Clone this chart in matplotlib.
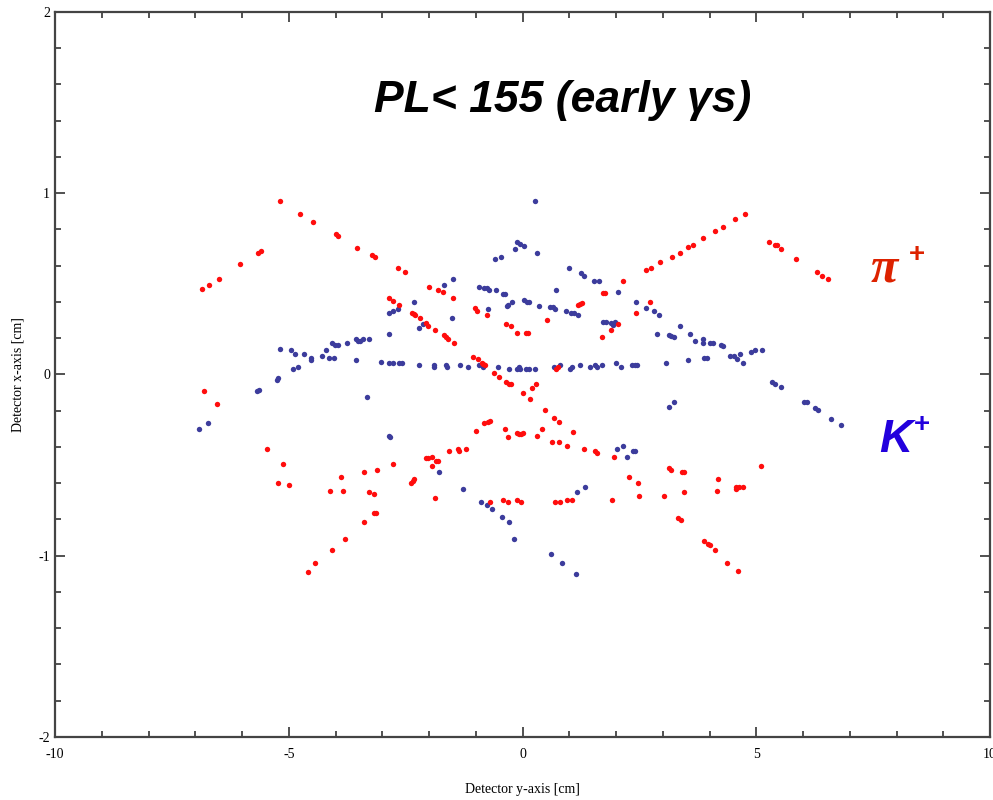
import numpy as np
import matplotlib
matplotlib.use("Agg")
from matplotlib import pyplot as plt
from matplotlib.ticker import MultipleLocator

plt.rcParams['axes.unicode_minus'] = False

# hit positions (detector y, detector x) in cm
pion_hits = [
  (-5.19, 0.957), (-4.77, 0.886), (-4.49, 0.843), (-5.66, 0.670), (-5.60, 0.680), (-6.05, 0.608),
  (-6.49, 0.525), (-6.71, 0.494), (-6.85, 0.474), (-6.82, -0.093), (-6.53, -0.166),
  (-4.00, 0.773), (-3.94, 0.764), (-3.53, 0.700), (-3.21, 0.658), (-3.15, 0.647), (-2.67, 0.588),
  (-2.51, 0.567), (-2.00, 0.485), (-1.80, 0.466), (-1.71, 0.453), (-1.49, 0.422),
  (-2.86, 0.424), (-2.76, 0.406), (-2.64, 0.382), (-2.37, 0.341), (-2.33, 0.332), (-2.30, 0.327),
  (-2.19, 0.313), (-2.07, 0.282), (-2.02, 0.269), (-1.87, 0.247), (-1.69, 0.216), (-1.64, 0.207),
  (-1.59, 0.198), (-1.46, 0.176),
  (-1.01, 0.365), (-0.98, 0.349), (-0.76, 0.330), (-0.35, 0.279), (-0.25, 0.268), (-0.12, 0.227),
  (0.07, 0.227), (0.11, 0.227), (0.52, 0.299), (1.19, 0.382), (1.24, 0.389), (1.28, 0.393),
  (1.72, 0.451), (1.76, 0.451), (2.15, 0.516), (2.05, 0.279), (1.89, 0.246), (1.69, 0.205),
  (2.43, 0.341), (2.72, 0.402),
  (2.65, 0.577), (2.74, 0.588), (2.94, 0.619), (3.20, 0.650), (3.36, 0.670), (3.54, 0.702), (3.65, 0.713),
  (-1.05, 0.095), (-0.95, 0.084), (-0.87, 0.062), (-0.84, 0.056), (-0.80, 0.051), (-0.60, 0.010),
  (-0.50, -0.012), (-0.35, -0.040), (-0.29, -0.051), (-0.25, -0.052), (0.01, -0.104), (0.17, -0.135),
  (0.20, -0.074), (0.29, -0.051), (0.71, 0.030), (0.75, 0.040),
  (0.49, -0.196), (0.68, -0.238), (0.77, -0.264), (1.09, -0.319), (-0.99, -0.310), (-0.82, -0.270),
  (-0.73, -0.264), (-0.69, -0.255), (-0.37, -0.299), (-0.31, -0.347), (-0.12, -0.321), (-0.07, -0.328),
  (-0.03, -0.328), (0.00, -0.321), (0.32, -0.341), (0.42, -0.299),
  (4.76, 0.886), (4.54, 0.856), (4.28, 0.814), (4.12, 0.792), (3.86, 0.751), (5.27, 0.731),
  (5.39, 0.713), (5.44, 0.713), (5.52, 0.691), (5.84, 0.639), (6.29, 0.567), (6.41, 0.545), (6.54, 0.525),
  (0.64, -0.372), (0.77, -0.372), (0.96, -0.393), (1.31, -0.413), (1.56, -0.422), (1.60, -0.435),
  (1.95, -0.455), (2.27, -0.567), (2.46, -0.599), (2.49, -0.672), (3.03, -0.672), (1.92, -0.691),
  (3.13, -0.518), (3.18, -0.527), (3.41, -0.536), (3.45, -0.536), (3.45, -0.650), (3.32, -0.792), (3.38, -0.803),
  (0.96, -0.691), (1.05, -0.691), (0.70, -0.702), (0.80, -0.702), (-0.12, -0.691), (-0.03, -0.702),
  (-0.41, -0.691), (-0.31, -0.702), (-0.70, -0.702),
  (-1.58, -0.424), (-1.37, -0.413), (-1.36, -0.424), (-1.21, -0.413), (-2.07, -0.464), (-2.02, -0.464),
  (-1.94, -0.455), (-1.85, -0.476), (-1.80, -0.476), (-1.94, -0.507), (-1.87, -0.681), (-2.39, -0.599),
  (-2.35, -0.589), (-2.32, -0.578), (-2.76, -0.496), (-3.12, -0.527), (-3.40, -0.538), (-3.28, -0.650),
  (-3.18, -0.661), (-3.17, -0.764), (-3.14, -0.764), (-3.40, -0.816), (-3.79, -0.908), (-4.08, -0.970),
  (-4.43, -1.042), (-4.59, -1.093), (-3.88, -0.567), (-4.11, -0.641), (-3.85, -0.641),
  (-5.47, -0.413), (-5.13, -0.496), (-5.23, -0.599), (-5.00, -0.610),
  (3.89, -0.917), (3.97, -0.935), (4.00, -0.939), (4.12, -0.970), (4.37, -1.042), (4.60, -1.084),
  (4.18, -0.578), (4.15, -0.641), (4.56, -0.619), (4.56, -0.630), (4.64, -0.619), (4.71, -0.619), (5.11, -0.507),
]

kaon_hits = [
  (-6.91, -0.299), (-6.72, -0.270), (-5.69, -0.093), (-5.64, -0.084), (-5.25, -0.030), (-5.22, -0.021),
  (-5.18, 0.142), (-4.96, 0.133), (-4.87, 0.113), (-4.68, 0.113), (-4.52, 0.089), (-4.52, 0.080),
  (-4.91, 0.030), (-4.81, 0.040), (-4.29, 0.102), (-4.20, 0.133), (-4.14, 0.093),
  (0.26, 0.959), (-0.11, 0.731), (-0.05, 0.720), (0.04, 0.711), (-0.16, 0.691), (0.32, 0.670),
  (-0.59, 0.639), (-0.47, 0.648), (0.99, 0.586), (1.25, 0.558), (1.31, 0.545), (1.53, 0.518),
  (1.63, 0.518), (2.05, 0.453), (0.71, 0.466), (-1.68, 0.494), (-1.49, 0.525),
  (-0.93, 0.485), (-0.82, 0.476), (-0.77, 0.476), (-0.72, 0.466), (-0.57, 0.464), (-0.42, 0.446),
  (-0.37, 0.442), (-0.31, 0.383), (-0.34, 0.376), (-0.23, 0.400), (0.04, 0.411), (0.10, 0.402),
  (0.14, 0.402), (0.35, 0.380), (0.58, 0.371), (0.65, 0.371), (0.69, 0.360), (0.92, 0.350),
  (1.03, 0.341), (1.11, 0.341), (1.18, 0.328), (-0.73, 0.361),
  (-2.32, 0.402), (-2.86, 0.338), (-2.77, 0.349), (-2.67, 0.360), (-1.51, 0.310), (-2.21, 0.255),
  (-2.12, 0.277), (-2.86, 0.225),
  (1.72, 0.291), (1.78, 0.291), (1.90, 0.282), (1.94, 0.273), (1.97, 0.291), (2.43, 0.402),
  (2.65, 0.369), (2.81, 0.350), (2.91, 0.328), (3.36, 0.268), (2.88, 0.225), (3.13, 0.220),
  (3.18, 0.214), (3.23, 0.207), (3.58, 0.225), (3.70, 0.185), (3.54, 0.082), (3.07, 0.062),
  (3.13, -0.178), (3.23, -0.153),
  (-3.33, -0.124), (-2.85, -0.338), (-2.83, -0.347),
  (-4.04, 0.093), (-4.07, 0.176), (-4.02, 0.165), (-3.94, 0.165), (-3.75, 0.176), (-3.56, 0.194),
  (-3.52, 0.185), (-3.47, 0.185), (-3.42, 0.194), (-3.28, 0.194), (-3.56, 0.082), (-3.03, 0.071),
  (-2.86, 0.062), (-2.76, 0.062), (-2.64, 0.062), (-2.57, 0.062), (-2.22, 0.051), (-1.90, 0.051),
  (-1.90, 0.040), (-1.64, 0.051), (-1.62, 0.040), (-1.33, 0.051), (-1.17, 0.040), (-0.93, 0.051),
  (-0.84, 0.040), (-0.52, 0.040), (-0.28, 0.030), (-0.11, 0.030), (-0.07, 0.040), (-0.05, 0.030),
  (0.07, 0.030), (0.14, 0.030), (0.27, 0.030), (0.67, 0.040), (0.80, 0.051), (1.02, 0.030),
  (1.06, 0.040), (1.22, 0.051), (1.44, 0.040), (1.56, 0.051), (1.60, 0.040), (1.70, 0.051),
  (2.01, 0.062), (2.11, 0.040), (2.34, 0.051), (2.40, 0.051), (2.45, 0.051),
  (3.86, 0.196), (3.86, 0.176), (4.02, 0.176), (4.07, 0.176), (4.24, 0.165), (4.28, 0.154),
  (4.44, 0.104), (4.52, 0.104), (4.59, 0.084), (4.66, 0.113), (4.72, 0.062), (4.88, 0.124),
  (4.98, 0.133), (5.13, 0.133), (3.88, 0.093), (3.94, 0.093),
  (5.34, -0.040), (5.41, -0.051), (5.53, -0.071), (6.03, -0.153), (6.09, -0.153), (6.26, -0.185),
  (6.31, -0.196), (6.60, -0.247), (6.81, -0.279),
  (-1.78, -0.538), (-1.27, -0.630), (-0.89, -0.702), (-0.76, -0.722), (-0.66, -0.744), (-0.44, -0.785),
  (-0.28, -0.816), (-0.18, -0.908), (0.61, -0.990), (0.84, -1.042), (1.15, -1.103), (1.16, -0.650),
  (1.34, -0.619), (2.02, -0.413), (2.14, -0.393), (2.24, -0.455), (2.36, -0.424), (2.40, -0.424),
]

x_ticks = [-10, -5, 0, 5, 10]
y_ticks = [-2, -1, 0, 1, 2]

pion = np.array(pion_hits)
kaon = np.array(kaon_hits)

fig = plt.figure(figsize = (9.93, 8.0), dpi = 100)
ax = fig.add_axes([0.0554, 0.079, 0.9416, 0.906])

ax.scatter(kaon[:, 0], kaon[:, 1], s = 15, c = '#3c3c9c', linewidths = 0)
ax.scatter(pion[:, 0], pion[:, 1], s = 15, c = '#ff0d0d', linewidths = 0)

ax.set_xlim(-10, 10)
ax.set_ylim(-2, 2)
ax.set_xticks(x_ticks)
ax.set_yticks(y_ticks)
ax.xaxis.set_minor_locator(MultipleLocator(1))
ax.yaxis.set_minor_locator(MultipleLocator(0.2))
ax.tick_params(which = 'both', direction = 'in', top = True, right = True,
               color = '#333333', width = 1.2, labelsize = 10)
ax.tick_params(which = 'major', length = 7)
ax.tick_params(which = 'minor', length = 4)
ax.tick_params(axis = 'x', pad = 8)
for spine in ax.spines.values():
  spine.set_linewidth(1.6)
  spine.set_color('#444444')
for lbl in ax.get_xticklabels() + ax.get_yticklabels():
  lbl.set_family('Liberation Serif')

ax.set_xlabel("Detector y-axis [cm]", family = 'Liberation Serif', fontsize = 10, labelpad = 16)
ax.set_ylabel("Detector x-axis [cm]", family = 'Liberation Serif', fontsize = 10, labelpad = 10)

ax.text(0.86, 1.45, "PL< 155 (early \u03b3s)", ha = 'center', va = 'baseline',
        family = 'Liberation Sans', fontsize = 32, fontweight = 'bold', style = 'italic')

ax.text(7.45, 0.51, "\u03c0", ha = 'left', va = 'baseline', color = '#dd2200',
        family = 'Liberation Serif', fontsize = 36, fontweight = 'bold', style = 'italic')
ax.text(8.27, 0.66, "+", ha = 'left', va = 'center', color = '#dd2200',
        family = 'Liberation Sans', fontsize = 20, fontweight = 'bold')

ax.text(7.63, -0.428, "K", ha = 'left', va = 'baseline', color = '#2200dd',
        family = 'Liberation Sans', fontsize = 33, fontweight = 'bold', style = 'italic')
ax.text(8.37, -0.28, "+", ha = 'left', va = 'center', color = '#2200dd',
        family = 'Liberation Sans', fontsize = 20, fontweight = 'bold')

fig.savefig('out.png', dpi = 100)
